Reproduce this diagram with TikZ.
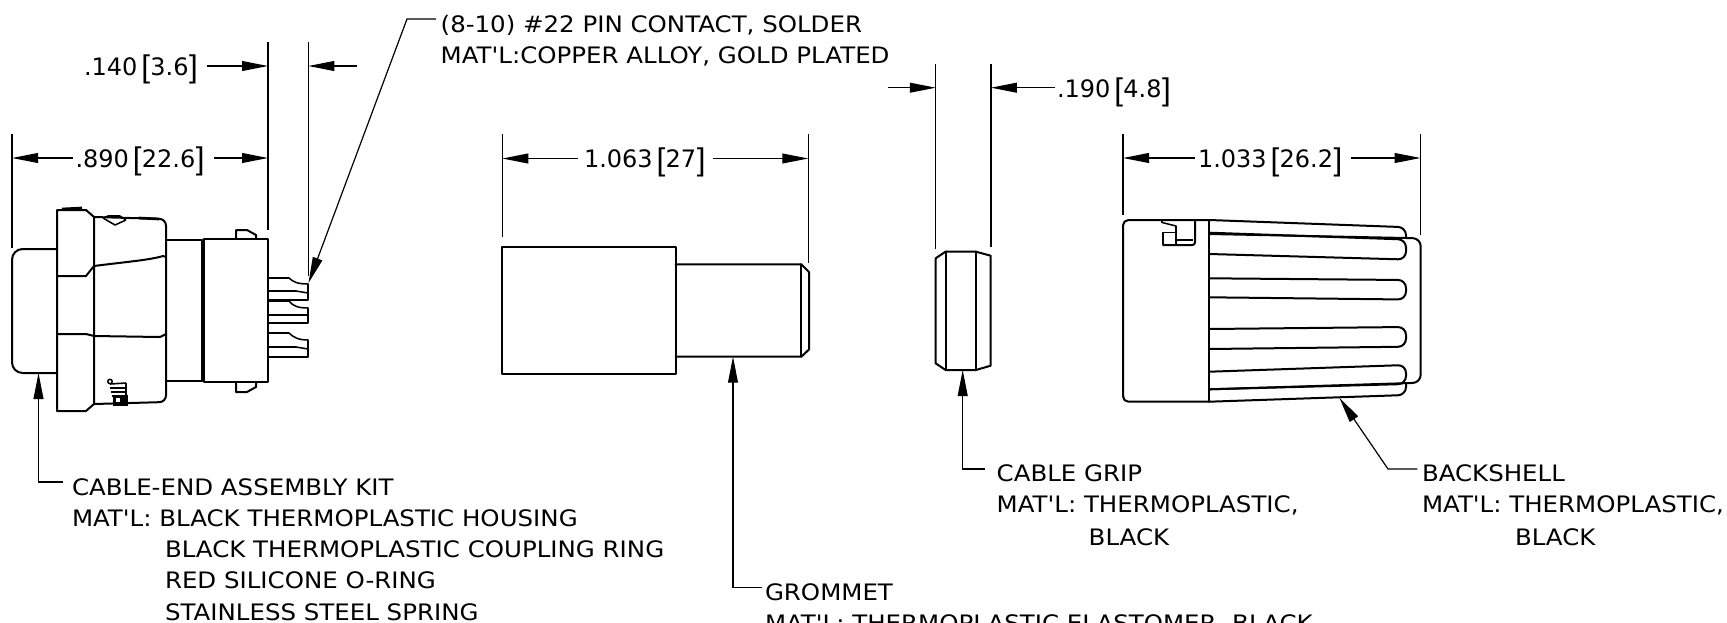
\documentclass[tikz,border=0pt]{standalone}
\usepackage{fontspec}
\usetikzlibrary{arrows.meta}
\setmainfont{DejaVu Sans}
\newfontfamily\lblfont[FakeStretch=1.08]{DejaVu Sans}
\newfontfamily\dimfont{DejaVu Sans}
\newfontfamily\brkfont{Liberation Sans}
\newcommand\brL{\raisebox{-2.2pt}{\brkfont\fontsize{23.5}{24}\selectfont[}}
\newcommand\brR{\raisebox{-2.2pt}{\brkfont\fontsize{23.5}{24}\selectfont]}}
\newcommand\dimtxt[2]{#1\hspace{3pt}\brL\hspace{0.2pt}#2\hspace{0.4pt}\brR}
\tikzset{
  obj/.style={line width=1.5pt,line join=round,line cap=round},
  thinobj/.style={line width=1.15pt,line join=round},
  dimline/.style={line width=0.9pt},
  extline/.style={line width=0.9pt},
  tip/.style={-{Triangle[length=19.5pt,width=7.4pt]}},
  lbl/.style={anchor=base west,inner sep=0pt,outer sep=0pt,font=\lblfont\fontsize{17}{17}\selectfont},
  dimlbl/.style={anchor=base west,inner sep=0pt,outer sep=0pt,font=\dimfont\fontsize{18}{18}\selectfont}
}
\begin{document}
\begin{tikzpicture}[x=0.75pt,y=-0.75pt]
\clip (0,0) rectangle (1727,622);
% ---------- connector kit
\draw[obj,rounded corners=8pt] (57,249) -- (12,249) -- (12,373) -- (57,373);
\draw[obj] (57,210) -- (86,210) -- (94,217) -- (94,404) -- (86,411) -- (57,411) -- cycle;
\draw[obj] (57,276) -- (86,276) -- (94,266) .. controls (125,262) and (150,260) .. (163,256) -- (166,257);
\draw[obj] (57,334) -- (86,334) -- (94,336) -- (160,337) -- (166,334);
\draw[obj,rounded corners=5pt] (94,217) -- (166,219) -- (166,402) -- (94,404);
\draw[line width=2pt] (62,209) -- (82,208);
\draw[line width=2pt] (139,218) -- (159,219);
\draw[thinobj] (103,218) -- (115,225) -- (126,220) (108,216) -- (120,216);
\draw[thinobj] (103,218) -- (108,216) (120,216) -- (126,220);
\draw[thinobj] (110,381.5) circle (2.2);
\draw[line width=1.2pt] (110,384) -- (126,383) (110,388) -- (126,388) (111,392) -- (126,392) (112,396) -- (126,396) (126,383) -- (126,396);
\fill (113,395) rectangle (127.5,406);
\fill[white] (116,398) rectangle (120,402);
\draw[obj] (166,240) -- (202,240) (166,381) -- (202,381);
\draw[obj] (202,240) -- (202,381);
\draw[obj] (204,239) rectangle (268,382);
\draw[obj] (236,239) -- (236,230) -- (247,230) -- (256,235) -- (256,239);
\draw[obj] (236,382) -- (236,392) -- (247,392) -- (256,387) -- (256,382);
% pins
\draw[thinobj] (268,278) -- (289,278) .. controls (293,282) and (298,284) .. (308,284) -- (308,300) -- (268,300);
\draw[thinobj] (268,291) -- (296,291) -- (308,293);
\draw[thinobj] (268,301) -- (289,301) .. controls (293,306) and (298,308) .. (308,308) -- (308,323) -- (268,323);
\draw[thinobj] (268,315) -- (308,315);
\draw[thinobj] (268,333) -- (289,333) .. controls (293,337) and (298,340) .. (308,340) -- (308,357) -- (268,357);
\draw[thinobj] (268,347) -- (296,347) -- (308,349);
% ---------- grommet
\draw[obj] (502.4,247.3) rectangle (675.6,374);
\draw[obj] (675.6,264.3) -- (801.3,264.3) -- (809.2,272.3) -- (809.2,349.3) -- (801.3,356.7) -- (675.6,356.7);
\draw[obj] (801.3,264.3) -- (801.3,356.7);
% ---------- cable grip
\draw[obj] (945.6,251.7) -- (975.9,251.7) -- (990.7,255.7) -- (990.7,365.7) -- (975.9,370) -- (945.6,370) -- (935.6,363.3) -- (935.6,258.3) -- cycle;
\draw[obj] (945.6,251.7) -- (945.6,370) (975.9,251.7) -- (975.9,370);
% ---------- backshell
\draw[obj,rounded corners=4pt] (1209.3,220) -- (1123,220) -- (1123,401.7) -- (1209.3,401.7);
\draw[obj] (1209.3,220) -- (1209.3,401.7);
\draw[obj,rounded corners=6pt] (1209.3,220) -- (1406,227.2) -- (1406,238);
\draw[obj,rounded corners=6pt] (1209.3,232.7) -- (1406,239.5) -- (1406,259.5) -- (1209.3,254);
\draw[obj,rounded corners=6pt] (1209.3,278.3) -- (1406,280) -- (1406,299.5) -- (1209.3,297.3);
\draw[obj,rounded corners=6pt] (1209.3,329) -- (1406,327) -- (1406,346.7) -- (1209.3,349);
\draw[obj,rounded corners=6pt] (1209.3,371.7) -- (1406,365) -- (1406,384) -- (1209.3,389.3);
\draw[obj,rounded corners=6pt] (1406,384) -- (1406,395) -- (1209.3,401.7);
\draw[obj,rounded corners=6pt] (1209.3,234) -- (1420.7,238.3) -- (1420.7,382.7) -- (1209.3,389.3);
\draw[thinobj] (1162,220.5) -- (1162,222.5) -- (1176,226) -- (1176,245);
\draw[thinobj] (1176,232.3) -- (1163,232.3) -- (1163,245);
\draw[obj,rounded corners=2pt] (1163,245) -- (1195,245) -- (1195,220);
\draw[thinobj] (1176,240) -- (1193,240);
% ---------- extension lines
\foreach \n/\x/\a/\b in {e1/12/134/248,e2/268/42/230,e3/308.3/42/276,e4/502.3/134/237,e5/808.3/134/263,e6/935.8/64/249,e7/990.9/64/247,e8/1123/134/215,e9/1420.6/134/235}{
  \coordinate (\n a) at (\x,\a);
  \coordinate (\n b) at (\x,\b);
  \draw[extline] (\n a) -- (\n b);
}
% ---------- dimension arrows
\foreach \n/\xa/\xb/\y in {a/207/268/66,b/357/308.3/66,c/73/12/158,d/214/268/158,e/578.3/502.3/158.5,f/713/808.3/158.5,g/887.6/935.8/87.7,h/1055/990.9/87.7,i/1195/1123/158,j/1351/1420.6/158}{
  \coordinate (\n s) at (\xa,\y);
  \coordinate (\n t) at (\xb,\y);
  \draw[dimline,tip] (\n s) -- (\n t);
}
% ---------- dimension texts
\node[dimlbl] (t140) at (84,75) {\dimtxt{.140}{3.6}};
\node[dimlbl] (t890) at (75.5,167) {\dimtxt{.890}{22.6}};
\node[dimlbl] (t1063) at (584,167.7) {\dimtxt{1.063}{27}};
\node[dimlbl] (t190) at (1057,97.5) {\dimtxt{.190}{4.8}};
\node[dimlbl] (t1033) at (1198,167.7) {\dimtxt{1.033}{26.2}};
% ---------- leaders and notes
\node[lbl] (pinA) at (440.7,32.3) {(8-10) \#22 PIN CONTACT, SOLDER};
\node[lbl] (pinB) at (440.7,63.3) {MAT'L:COPPER ALLOY, GOLD PLATED};
\coordinate (pinL) at (436,19);
\coordinate (pinK) at (407,19);
\coordinate (pinT) at (308.5,283);
\draw[dimline,tip] (pinL) -- (pinK) -- (pinT);
\node[lbl] (kitA) at (72,495) {CABLE-END ASSEMBLY KIT};
\node[lbl] (kitB) at (72,526) {MAT'L: BLACK THERMOPLASTIC HOUSING};
\node[lbl] (kitC) at (165,557) {BLACK THERMOPLASTIC COUPLING RING};
\node[lbl] (kitD) at (165,588) {RED SILICONE O-RING};
\node[lbl] (kitE) at (165,620) {STAINLESS STEEL SPRING};
\coordinate (kitL) at (63,482);
\coordinate (kitK) at (38.5,482);
\coordinate (kitT) at (38.5,373);
\draw[dimline,tip] (kitL) -- (kitK) -- (kitT);
\node[lbl] (gromA) at (765,600) {GROMMET};
\node[lbl] (gromB) at (765,631) {MAT'L: THERMOPLASTIC ELASTOMER, BLACK};
\coordinate (gromL) at (761.5,587.7);
\coordinate (gromK) at (733,587.7);
\coordinate (gromT) at (733,356.7);
\draw[dimline,tip] (gromL) -- (gromK) -- (gromT);
\node[lbl] (gripA) at (996.7,481.7) {CABLE GRIP};
\node[lbl] (gripB) at (996.7,512.7) {MAT'L: THERMOPLASTIC,};
\node[lbl] (gripC) at (1088.7,545) {BLACK};
\coordinate (gripL) at (984.5,469);
\coordinate (gripK) at (962.7,469);
\coordinate (gripT) at (962.7,370);
\draw[dimline,tip] (gripL) -- (gripK) -- (gripT);
\node[lbl] (backA) at (1422,481.7) {BACKSHELL};
\node[lbl] (backB) at (1422,512.7) {MAT'L: THERMOPLASTIC,};
\node[lbl] (backC) at (1515,545) {BLACK};
\coordinate (backL) at (1417.4,469);
\coordinate (backK) at (1388,469);
\coordinate (backT) at (1339.3,397.7);
\draw[dimline,tip] (backL) -- (backK) -- (backT);
\end{tikzpicture}
\end{document}
